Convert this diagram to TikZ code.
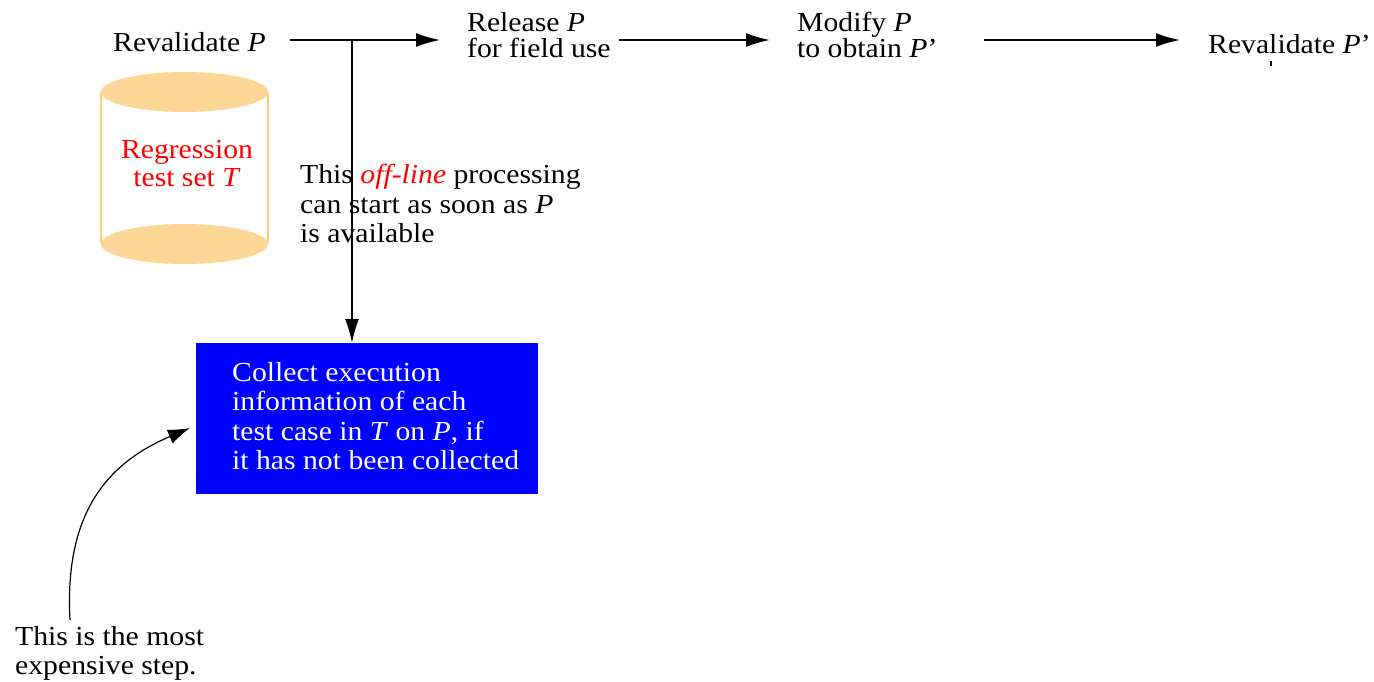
\documentclass[tikz,border=0pt]{standalone}
\usepackage{fontspec}
\setmainfont{Liberation Serif}[FakeStretch=1.08]
\usetikzlibrary{arrows.meta}
\definecolor{cylfill}{RGB}{252,214,150}
\definecolor{cylline}{RGB}{255,204,128}
\definecolor{boxblue}{RGB}{0,0,255}
\definecolor{txtred}{RGB}{255,0,0}
\begin{document}
\begin{tikzpicture}[x=1pt,y=-1pt,
  lbl/.style={inner sep=0pt, align=left, font=\fontsize{27.5}{25.5}\selectfont},
  para/.style={inner sep=0pt, align=left, font=\fontsize{27.5}{29.5}\selectfont},
  flow/.style={line width=1.8pt, -{Latex[length=24pt,width=14pt]}},
  plain/.style={line width=1.6pt}]
\useasboundingbox (0,0) rectangle (1374,682);

% top row of steps
\node[lbl, anchor=west] (rev) at (113,42) {Revalidate \textit{P}};
\node[lbl, anchor=west] (rel) at (467,35) {Release \textit{P}\\for field use};
\node[lbl, anchor=west] (mod) at (797,35) {Modify \textit{P}\\to obtain \textit{P}’};
\node[lbl, anchor=west] (rev2) at (1208,44) {Revalidate \textit{P}’};
\draw[plain] (1271,61) -- (1271,66);

% the main line, with the branch point of the off-line step
\coordinate (jn) at (352,40);
\draw[flow] ([xshift=24pt]rev.east |- jn) -- ([xshift=-27pt]rel.west |- jn);
\draw[flow] ([xshift=8pt]rel.east |- jn) -- ([xshift=-27pt]mod.west |- jn);
\draw[flow] ([xshift=46pt]mod.east |- jn) -- ([xshift=-28pt]rev2.west |- jn);

% regression test store
\draw[cylline, line width=1.2pt] (101,92) -- (101,243) (268,92) -- (268,243);
\fill[cylfill] (184.5,92) ellipse (83.5pt and 20pt);
\fill[cylfill] (184.5,244) ellipse (83.5pt and 20pt);
\node[para, align=center, text=txtred, font=\fontsize{27.5}{28}\selectfont] (store) at (187,164) {Regression\\test set \textit{T}};

% off-line step
\node[anchor=north west, fill=boxblue, minimum width=342pt, minimum height=151pt, inner sep=0pt] (collect) at (196,343) {};
\node[para, anchor=north west, text=white] (collecttxt) at (232,362) {Collect execution\\information of each\\test case in \textit{T} on \textit{P}, if\\it has not been collected};
\draw[flow] (jn) -- (jn |- collect.north);

\node[para, anchor=north west] (offline) at (300,164) {This \textcolor{txtred}{\textit{off-line}} processing\\can start as soon as \textit{P}\\is available};

% annotation
\node[para, anchor=north west] (note) at (15,626) {This is the most\\expensive step.};
\draw[line width=1.2pt, -{Latex[length=22pt,width=15pt]}] (note.north west -| 70,0) ++(0,-6) .. controls (64,510) and (110,462) .. (190,428);
\end{tikzpicture}
\end{document}
